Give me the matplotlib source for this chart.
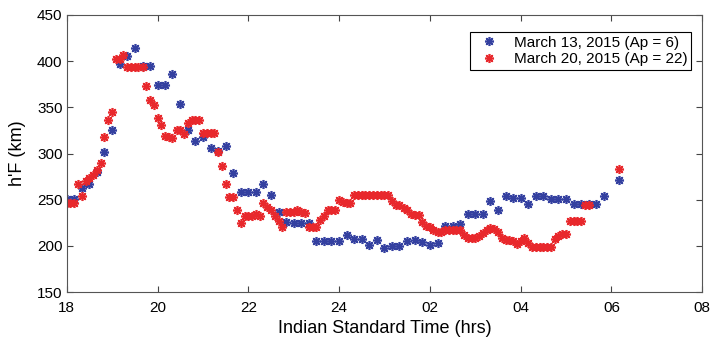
import matplotlib
matplotlib.use("Agg")
from matplotlib import pyplot as plt

plt.rcParams['font.family'] = ['Liberation Sans', 'DejaVu Sans']

# March 13, 2015 (10 min sampling), hours since 00 of first day
t_blue = [18.00, 18.17, 18.33, 18.50, 18.67, 18.83, 19.00, 19.17, 19.33, 19.50,
          19.67, 19.83, 20.00, 20.17, 20.33, 20.50, 20.67, 20.83, 21.00, 21.17,
          21.33, 21.50, 21.67, 21.83, 22.00, 22.17, 22.33, 22.50, 22.67, 22.83,
          23.00, 23.17, 23.33, 23.50, 23.67, 23.83, 24.00, 24.17, 24.33, 24.50,
          24.67, 24.83, 25.00, 25.17, 25.33, 25.50, 25.67, 25.83, 26.00, 26.17,
          26.33, 26.50, 26.67, 26.83, 27.00, 27.17, 27.33, 27.50, 27.67, 27.83,
          28.00, 28.17, 28.33, 28.50, 28.67, 28.83, 29.00, 29.17, 29.33, 29.50,
          29.67, 29.83, 30.17]
h_blue = [251, 251, 263, 267, 280, 302, 325, 397, 406, 414,
          395, 395, 374, 374, 386, 354, 326, 314, 318, 306,
          303, 308, 279, 258, 258, 258, 267, 255, 237, 226,
          225, 225, 225, 205, 205, 205, 205, 212, 208, 208,
          201, 206, 198, 200, 200, 205, 206, 204, 201, 203,
          222, 222, 224, 235, 235, 235, 249, 239, 254, 252,
          252, 245, 254, 254, 251, 251, 251, 245, 245, 245,
          245, 254, 271]

# March 20, 2015 (5 min sampling)
t_red = [18.00, 18.08, 18.17, 18.25, 18.33, 18.42, 18.50, 18.58, 18.67, 18.75,
         18.83, 18.92, 19.00, 19.08, 19.17, 19.25, 19.33, 19.42, 19.50, 19.58,
         19.67, 19.75, 19.83, 19.92, 20.00, 20.08, 20.17, 20.25, 20.33, 20.42,
         20.50, 20.58, 20.67, 20.75, 20.83, 20.92, 21.00, 21.08, 21.17, 21.25,
         21.33, 21.42, 21.50, 21.58, 21.67, 21.75, 21.83, 21.92, 22.00, 22.08,
         22.17, 22.25, 22.33, 22.42, 22.50, 22.58, 22.67, 22.75, 22.83, 22.92,
         23.00, 23.08, 23.17, 23.25, 23.33, 23.42, 23.50, 23.58, 23.67, 23.75,
         23.83, 23.92, 24.00, 24.08, 24.17, 24.25, 24.33, 24.42, 24.50, 24.58,
         24.67, 24.75, 24.83, 24.92, 25.00, 25.08, 25.17, 25.25, 25.33, 25.42,
         25.50, 25.58, 25.67, 25.75, 25.83, 25.92, 26.00, 26.08, 26.17, 26.25,
         26.33, 26.42, 26.50, 26.58, 26.67, 26.75, 26.83, 26.92, 27.00, 27.08,
         27.17, 27.25, 27.33, 27.42, 27.50, 27.58, 27.67, 27.75, 27.83, 27.92,
         28.00, 28.08, 28.17, 28.25, 28.33, 28.42, 28.50, 28.58, 28.67, 28.75,
         28.83, 28.92, 29.00, 29.08, 29.17, 29.25, 29.33, 29.42, 29.50, 30.17]
h_red = [246, 246, 246, 267, 254, 270, 274, 277, 282, 290,
         318, 336, 345, 402, 402, 407, 394, 394, 394, 394,
         394, 373, 358, 352, 338, 331, 319, 318, 317, 326,
         326, 321, 333, 336, 336, 336, 322, 322, 322, 322,
         302, 286, 267, 253, 253, 239, 225, 232, 232, 232,
         235, 232, 246, 242, 239, 232, 227, 221, 237, 237,
         237, 239, 237, 236, 221, 221, 221, 228, 232, 239,
         239, 239, 250, 248, 246, 246, 255, 255, 255, 255,
         255, 255, 255, 255, 255, 255, 249, 244, 244, 241,
         239, 235, 234, 234, 226, 222, 220, 217, 215, 215,
         217, 217, 217, 217, 217, 212, 209, 209, 209, 211,
         214, 217, 219, 218, 215, 209, 206, 206, 205, 202,
         205, 209, 203, 199, 199, 199, 199, 199, 199, 208,
         211, 213, 213, 227, 227, 227, 227, 244, 244, 283]

xticks = [18, 20, 22, 24, 26, 28, 30, 32]
xticklabels = ["18", "20", "22", "24", "02", "04", "06", "08"]

fig = plt.figure(figsize=(7.1, 3.47), dpi=100)
ax = fig.add_axes([0.094, 0.158, 0.895, 0.799])

ast = (8, 2, 0)
ax.plot(t_blue, h_blue, linestyle="none", marker=ast, markersize=6.5, markeredgewidth=1.2,
        color="#3440a0", label="March 13, 2015 (Ap = 6)")
ax.plot(t_red, h_red, linestyle="none", marker=ast, markersize=6.5, markeredgewidth=1.2,
        color="#e8282c", label="March 20, 2015 (Ap = 22)")

ax.set_xlim(18, 32)
ax.set_ylim(150, 450)
ax.set_xticks(xticks)
ax.set_xticklabels(xticklabels)
ax.set_yticks(range(150, 451, 50))
ax.tick_params(direction="in", top=True, right=True, labelsize=11, length=4,
               color="#444444", pad=3)
ax.tick_params(axis="x", pad=6)
for s in ax.spines.values():
    s.set_color("#555555")
ax.set_xlabel("Indian Standard Time (hrs)", fontsize=13, labelpad=4)
ax.set_ylabel("h'F (km)", fontsize=13, labelpad=8)

leg = ax.legend(loc="upper right", bbox_to_anchor=(0.99, 0.955), fontsize=11, fancybox=False,
                edgecolor="black", framealpha=1, handletextpad=0.6, borderpad=0.25,
                labelspacing=0.15, handlelength=2.0, borderaxespad=0.3)
leg.get_frame().set_linewidth(0.8)

fig.savefig("out.png", dpi=100)
